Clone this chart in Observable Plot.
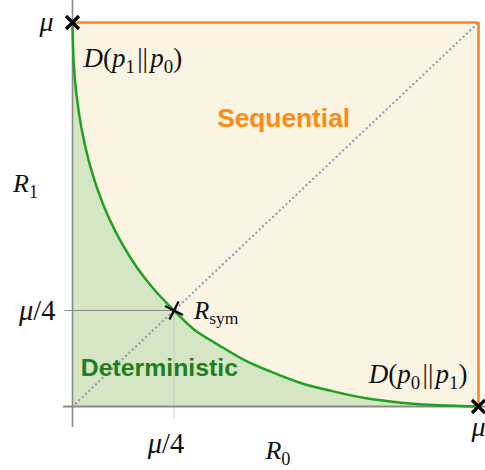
<!DOCTYPE html>
<html><head><meta charset="utf-8">
<script src="https://cdn.jsdelivr.net/npm/d3@7"></script>
<script src="https://cdn.jsdelivr.net/npm/@observablehq/plot@0.6"></script>
<style>body{margin:0;background:#fff}</style>
</head><body><div id="chart"></div>
<script>
// ---- data (R0, R1 in units of μ) ----
const MU = 1;
const QUARTER = MU / 4;
const boundaryR0 = [0, 0.003, 0.01, 0.022, 0.04, 0.062, 0.09, 0.123, 0.16, 0.2, 0.25, 0.3, 0.36, 0.42, 0.49, 0.56, 0.64, 0.72, 0.81, 0.9, 1];
const boundaryR1 = [1, 0.893, 0.81, 0.725, 0.64, 0.564, 0.49, 0.422, 0.36, 0.306, 0.25, 0.2, 0.16, 0.123, 0.09, 0.062, 0.04, 0.022, 0.01, 0.003, 0];
const endpointsR0 = [0, 1];
const endpointsR1 = [1, 0];
const symR0 = [0.25];
const symR1 = [0.25];
const tickLabels = ["μ/4", "μ"];
const regionLabels = ["Sequential", "Deterministic"];

const boundary = boundaryR0.map((r0, i) => ({R0: r0, R1: boundaryR1[i]}));
const endpoints = endpointsR0.map((r0, i) => ({R0: r0, R1: endpointsR1[i]}));
const sym = symR0.map((r0, i) => ({R0: r0, R1: symR1[i]}));
const diagonal = [{R0: 0, R1: 0}, {R0: MU, R1: MU}];

const SERIF = "'Liberation Serif', 'DejaVu Serif', serif";
const SANS = "'Liberation Sans', Arial, sans-serif";

const crossSymbol = {
  draw(ctx, size) {
    const h = Math.sqrt(size / Math.PI);
    ctx.moveTo(-h, -h); ctx.lineTo(h, h);
    ctx.moveTo(h, -h); ctx.lineTo(-h, h);
  }
};
const tiltedPlus = {
  draw(ctx, size) {
    const h = Math.sqrt(size / Math.PI);
    const a = 27 * Math.PI / 180, c = Math.cos(a), s = Math.sin(a);
    ctx.moveTo(-h * c, -h * s); ctx.lineTo(h * c, h * s);
    ctx.moveTo(h * s, -h * c); ctx.lineTo(-h * s, h * c);
  }
};

const mathText = (text, opts) => Plot.text([text], {
  text: d => d, fontFamily: SERIF, fill: "#111", className: "math", ...opts
});

const chart = Plot.plot({
  width: 485, height: 470,
  marginLeft: 72, marginRight: 7, marginTop: 22, marginBottom: 64,
  x: {domain: [0, MU], axis: null},
  y: {domain: [0, MU], axis: null},
  style: {background: "white", overflow: "visible"},
  marks: [
    Plot.frame({fill: "#FAF4E3", stroke: null}),
    Plot.areaY(boundary, {x: "R0", y: "R1", fill: "#D4E6C4", curve: "catmull-rom"}),
    // guide lines to μ/4
    Plot.ruleY([QUARTER], {x1: -0.018, x2: d => d, stroke: "#8c8c8c", strokeWidth: 1}),
    Plot.ruleX([QUARTER], {y1: -0.031, y2: d => d, stroke: "#c4c4c4", strokeWidth: 1}),
    // dotted diagonal
    Plot.line(diagonal, {x: "R0", y: "R1", stroke: "#8797B8", strokeWidth: 2.2, strokeDasharray: "0.1 4.5", strokeLinecap: "round"}),
    // axes
    Plot.ruleX([0], {y1: -0.055, y2: 1.057, stroke: "#8a8a8a", strokeWidth: 1.6}),
    // sequential region border
    Plot.ruleY([MU], {x1: 0, x2: MU, stroke: "#FA8526", strokeWidth: 2.6}),
    Plot.ruleX([MU], {y1: 0, y2: MU, stroke: "#FA8526", strokeWidth: 2.6}),
    Plot.ruleY([0], {x1: -0.022, x2: 1.02, stroke: "#8a8a8a", strokeWidth: 2}),
    // boundary curve
    Plot.line(boundary, {x: "R0", y: "R1", stroke: "#1FA01F", strokeWidth: 2.5, curve: "catmull-rom"}),
    // markers
    Plot.dot(endpoints, {x: "R0", y: "R1", symbol: crossSymbol, r: 6.5, stroke: "#000", strokeWidth: 3.2, fill: "none"}),
    Plot.dot(sym, {x: "R0", y: "R1", symbol: tiltedPlus, r: 10, stroke: "#000", strokeWidth: 2.2, fill: "none"}),
    // region labels
    Plot.text([regionLabels[0]], {text: d => d, x: 0.52, y: 0.75, fontFamily: SANS, fontWeight: "bold", fontSize: 26.3, fill: "#FF8A14"}),
    Plot.text([regionLabels[1]], {text: d => d, x: 0.214, y: 0.099, fontFamily: SANS, fontWeight: "bold", fontSize: 24.8, fill: "#1E7E1E"}),
    // tick labels
    mathText(tickLabels[1], {x: 0, y: MU, dx: -19, textAnchor: "end", fontSize: 28}),
    mathText(tickLabels[0], {x: 0, y: QUARTER, dx: -17, textAnchor: "end", fontSize: 28.5}),
    mathText(tickLabels[0], {x: QUARTER, y: 0, dx: -8, dy: 37, fontSize: 28.5}),
    mathText(tickLabels[1], {x: MU, y: 0, dx: 7, dy: 21, textAnchor: "end", fontSize: 28}),
    // axis labels
    mathText("R_1", {x: 0, y: 0.58, dx: -47, fontSize: 26}),
    mathText("R_0", {x: 0.506, y: 0, dx: 0, dy: 44, fontSize: 26}),
    // annotations
    mathText("D(p_1\u200A||\u200Ap_0)", {x: 0, y: MU, dx: 11, dy: 36, textAnchor: "start", fontSize: 27}),
    mathText("D(p_0\u200A||\u200Ap_1)", {x: MU, y: 0, dx: -11, dy: -32, textAnchor: "end", fontSize: 27}),
    mathText("R_{sym}", {x: QUARTER, y: QUARTER, dx: 20, dy: 0, textAnchor: "start", fontSize: 25})
  ]
});

// typeset simple math: letters italic, digits/punctuation upright, _x subscripts
function typeset(textEl) {
  const s = textEl.textContent;
  const fs = parseFloat(getComputedStyle(textEl).fontSize) || 20;
  textEl.textContent = "";
  const ns = "http://www.w3.org/2000/svg";
  let i = 0, pendingDy = 0;
  const add = (str, italic, sub) => {
    const t = document.createElementNS(ns, "tspan");
    t.textContent = str;
    t.setAttribute("font-style", italic ? "italic" : "normal");
    let dy = pendingDy;
    if (sub) { t.setAttribute("font-size", (fs * 0.7) + "px"); dy += fs * 0.22; pendingDy = -fs * 0.22; }
    else pendingDy = 0;
    if (dy) t.setAttribute("dy", dy);
    textEl.appendChild(t);
  };
  const isLetter = c => /[A-Za-zμ]/.test(c);
  while (i < s.length) {
    if (s[i] === "_") {
      let sub;
      if (s[i + 1] === "{") { const j = s.indexOf("}", i); sub = s.slice(i + 2, j); i = j + 1; }
      else { sub = s[i + 1]; i += 2; }
      add(sub, false, true);
    } else {
      const it = isLetter(s[i]);
      let j = i;
      while (j < s.length && s[j] !== "_" && isLetter(s[j]) === it) j++;
      add(s.slice(i, j), it, false);
      i = j;
    }
  }
}
document.getElementById("chart").appendChild(chart);
chart.querySelectorAll("g.math text").forEach(typeset);
</script>
</body></html>
